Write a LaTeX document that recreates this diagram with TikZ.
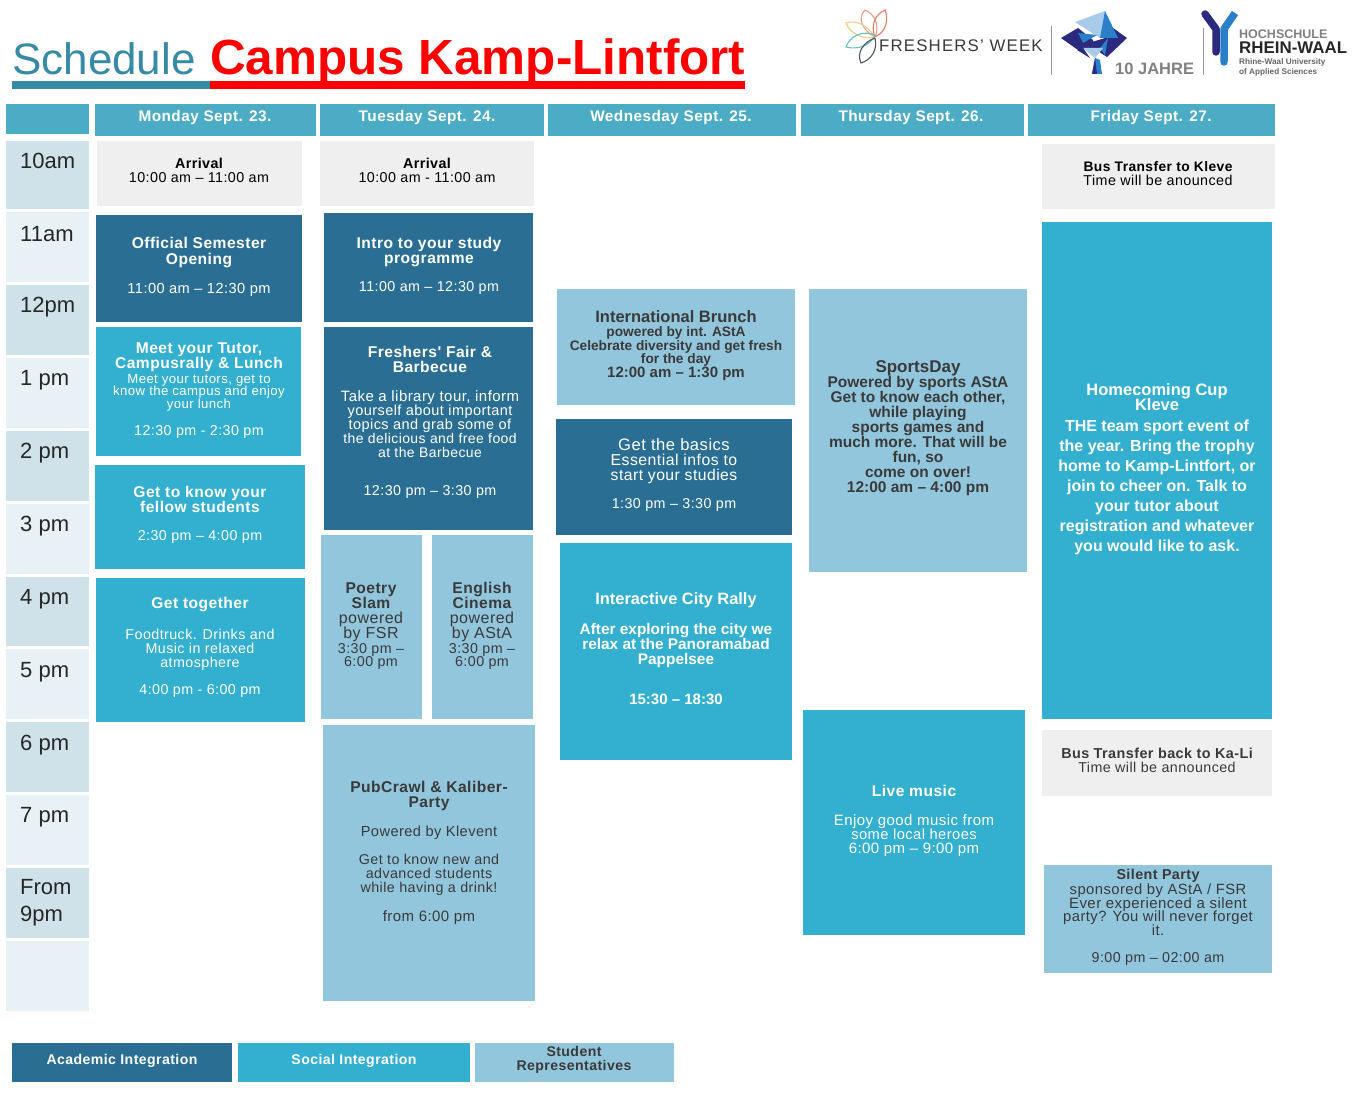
\documentclass[tikz,border=0pt]{standalone}
\usepackage{fontspec}
\setmainfont{Liberation Sans}
\newfontfamily\spc{Liberation Sans}[LetterSpace=3]
\definecolor{dark}{HTML}{2A6F93}
\definecolor{mid}{HTML}{33AFCF}
\definecolor{pale}{HTML}{92C6DC}
\definecolor{head}{HTML}{4CACC6}
\definecolor{grey}{HTML}{EFEFEF}
\definecolor{tA}{HTML}{CFE2E9}
\definecolor{tB}{HTML}{E8F1F5}
\definecolor{teal}{HTML}{368AA5}
\definecolor{tone}{HTML}{3A3A3A}
\definecolor{navy}{HTML}{2B2A7E}
\definecolor{blueB}{HTML}{2A7FC8}
\definecolor{blueC}{HTML}{A9CBEA}
\definecolor{pSalmon}{HTML}{E8A08A}
\definecolor{pRed}{HTML}{E87A62}
\definecolor{pYellow}{HTML}{F0CC80}
\definecolor{pTeal}{HTML}{62C2C4}
\definecolor{pDark}{HTML}{4A5862}
\AtBeginDocument{\lineskiplimit=-100pt\relax}
\tikzset{
 x=1pt,y=-1pt,
 txt/.style={inner sep=0pt,align=center,font=\spc\fontsize{14.3}{14}\selectfont},
 wh/.style={txt,text=white},
 dk/.style={txt,text=black},
 hd/.style={inner sep=0pt,text=white,font=\spc\bfseries\fontsize{15.35}{15}\selectfont},
 tm/.style={inner sep=0pt,anchor=west,align=left,text=black!85,font=\fontsize{22}{27}\selectfont},
 logo/.style={inner sep=0pt,anchor=west,text=tone},
 petal/.style={line width=1.1pt},
}
\newcommand{\bx}[6]{\path[fill=#6] (#2,#3) rectangle (#4,#5) coordinate (#1);}
\newcommand{\bb}{\spc\bfseries}
\newcommand{\hl}[1]{{\bb\fontsize{15.6}{16}\selectfont #1}}
\newcommand{\sz}[2]{{\fontsize{#1}{14}\selectfont #2}}
\begin{document}
\begin{tikzpicture}
\useasboundingbox (0,0) rectangle (1359,1097);
\fill[white] (0,0) rectangle (1359,1097);
% title
\fill[teal] (12,81) rectangle (210,89);
\fill[red] (210,81) rectangle (745,89);
\node[inner sep=0pt,anchor=base west,text=teal,font=\fontsize{44}{44}\selectfont] (ttA) at (12,75) {Schedule};
\node[inner sep=0pt,anchor=base west,text=red,font=\bfseries\fontsize{49.4}{49}\selectfont] (ttB) at (210,75) {Campus Kamp-Lintfort};
% logos
\begin{scope}[petal]
\draw[pSalmon] (875,37) .. controls (862,30) and (857,18) .. (865,10) .. controls (875,14) and (880,26) .. (875,37);
\draw[pRed] (875,37) .. controls (870,24) and (876,14) .. (885,10) .. controls (889,20) and (886,32) .. (875,37);
\draw[pYellow] (875,37) .. controls (866,24) and (856,20) .. (846,23) .. controls (850,34) and (864,40) .. (875,37);
\draw[pTeal] (875,35) .. controls (862,30) and (850,36) .. (846,47) .. controls (858,50) and (870,46) .. (875,35);
\draw[pDark] (875,38) .. controls (864,42) and (856,52) .. (861,63) .. controls (871,60) and (878,50) .. (875,38);
\end{scope}
\node[logo,font=\fontsize{16.8}{17}\selectfont\addfontfeature{LetterSpace=7}] (lgA) at (879,46) {FRESHERS' WEEK};
\draw[black!40,line width=.8pt] (1051,26) -- (1051,75);
% tree
\fill[navy] (1061,38) -- (1078,28) -- (1093,40) -- (1095,48) -- (1078,50) -- cycle;
\fill[navy] (1105,38) -- (1113,28) -- (1127,38) -- (1107,57) -- (1096,50) -- cycle;
\fill[blueC] (1075,22) -- (1105,11) -- (1107,37) -- (1100,38) -- cycle;
\fill[blueB] (1105,11) -- (1118,38) -- (1100,38) -- cycle;
\fill[blueB] (1078,33) -- (1097,35) -- (1083,43) -- cycle;
\fill[navy] (1082,45) -- (1105,38) -- (1100,48) -- (1087,48) -- cycle;
\fill[blueB] (1100,48) -- (1108,38) -- (1105,55) -- cycle;
\fill[blueC] (1083,48) -- (1103,48) -- (1095,58) -- cycle;
\fill[navy] (1077,50) -- (1083,48) -- (1090,58) -- cycle;
\fill[blueB] (1095,58) -- (1100,60) -- (1102,74) -- (1092,74) -- cycle;
\fill[navy] (1092,74) -- (1095,58) -- (1097,74) -- cycle;
\node[logo,text=black!50,font=\bfseries\fontsize{16.5}{17}\selectfont] (lgB) at (1115,69) {10 JAHRE};
\draw[black!40,line width=.8pt] (1203,28) -- (1203,75);
\draw[navy,line width=7.5pt,line cap=round,line join=round] (1205,14) -- (1216,29) -- (1216,52);
\draw[blueB,line width=7.5pt,line join=round] (1235,13) -- (1224,29) -- (1224,61);
\fill[blueB] (1224,62) circle (3.75);
\node[logo,text=black!50,font=\bfseries\fontsize{12.5}{12.5}\selectfont] (lgC) at (1239,34) {HOCHSCHULE};
\node[logo,text=black!85,font=\bfseries\fontsize{16.9}{17}\selectfont] (lgD) at (1239,48) {RHEIN-WAAL};
\node[logo,align=left,text=black!60,font=\bfseries\fontsize{8.2}{9.5}\selectfont] (lgE) at (1239,67.5) {Rhine-Waal University\\of Applied Sciences};
% headers
\bx{hc}{6}{104}{89}{134}{head}
\bx{hm}{95}{104}{316}{136}{head}
\bx{ht}{320}{104}{544}{136}{head}
\bx{hw}{548}{104}{796}{136}{head}
\bx{hh}{801}{104}{1024}{136}{head}
\bx{hf}{1028}{104}{1275}{136}{head}
\node[hd] (hmT) at (205,117.5) {Monday Sept. 23.};
\node[hd] (htT) at (427,117.5) {Tuesday Sept. 24.};
\node[hd] (hwT) at (671,117.5) {Wednesday Sept. 25.};
\node[hd] (hhT) at (911,117.5) {Thursday Sept. 26.};
\node[hd] (hfT) at (1151,117.5) {Friday Sept. 27.};
% times
\bx{t1}{6}{141}{89}{209}{tA}
\bx{t2}{6}{212}{89}{282}{tB}
\bx{t3}{6}{285}{89}{355}{tA}
\bx{t4}{6}{358}{89}{428}{tB}
\bx{t5}{6}{431}{89}{501}{tA}
\bx{t6}{6}{504}{89}{574}{tB}
\bx{t7}{6}{577}{89}{646}{tA}
\bx{t8}{6}{649}{89}{719}{tB}
\bx{t9}{6}{722}{89}{792}{tA}
\bx{t10}{6}{795}{89}{865}{tB}
\bx{t11}{6}{868}{89}{938}{tA}
\bx{t12}{6}{941}{89}{1011}{tB}
\node[tm] (tt1) at (20,161) {10am};
\node[tm] (tt2) at (20,234) {11am};
\node[tm] (tt3) at (20,307) {12pm};
\node[tm] (tt4) at (20,380) {1 pm};
\node[tm] (tt5) at (20,453) {2 pm};
\node[tm] (tt6) at (20,526) {3 pm};
\node[tm] (tt7) at (20,599) {4 pm};
\node[tm] (tt8) at (20,672) {5 pm};
\node[tm] (tt9) at (20,745) {6 pm};
\node[tm] (tt10) at (20,817) {7 pm};
\node[tm] (tt11) at (20,903) {From\\9pm};
% Monday
\bx{mA}{97}{141}{302}{206}{grey}
\bx{mB}{96}{215}{302}{322}{dark}
\bx{mC}{96}{327}{301}{456}{mid}
\bx{mD}{95}{465}{305}{569}{mid}
\bx{mE}{96}{578}{305}{722}{mid}
\node[dk] (mAt) at (199,170) {{\bb Arrival}\\10:00 am – 11:00 am};
\node[wh] (mBt) at (199,266.5) {\hl{Official Semester}\\[2pt]\hl{Opening}\\[15pt]\sz{14.6}{11:00 am – 12:30 pm}};
\node[wh] (mCt) at (199,390.5) {\hl{Meet your Tutor,}\\[1pt]\hl{Campusrally \& Lunch}\\[1pt]\sz{13.2}{Meet your tutors, get to}\\[-1.5pt]\sz{13.2}{know the campus and enjoy}\\[-1.5pt]\sz{13.2}{your lunch}\\[13pt]12:30 pm - 2:30 pm};
\node[wh] (mDt) at (200,515) {\hl{Get to know your}\\[1pt]\hl{fellow students}\\[14pt]2:30 pm – 4:00 pm};
\node[wh] (mEt) at (200,647.5) {\hl{Get together}\\[17pt]Foodtruck. Drinks and\\Music in relaxed\\atmosphere\\[13pt]4:00 pm - 6:00 pm};
% Tuesday
\bx{tuA}{320}{141}{534}{206}{grey}
\bx{tuB}{324}{213}{533}{322}{dark}
\bx{tuC}{324}{327}{533}{530}{dark}
\bx{tuD}{321}{535}{422}{719}{pale}
\bx{tuE}{432}{535}{533}{719}{pale}
\bx{tuF}{323}{725}{535}{1001}{pale}
\node[dk] (tuAt) at (427,170) {{\bb Arrival}\\10:00 am - 11:00 am};
\node[wh] (tuBt) at (429,266) {\hl{Intro to your study}\\[1pt]\hl{programme}\\[14pt]11:00 am – 12:30 pm};
\node[wh] (tuCt) at (430,422) {\hl{Freshers' Fair \&}\\[1pt]\hl{Barbecue}\\[15pt]\sz{15}{Take a library tour, inform}\\\sz{14.5}{yourself about important}\\\sz{14.5}{topics and grab some of}\\\sz{14}{the delicious and free food}\\\sz{14}{at the Barbecue}\\[24pt]12:30 pm – 3:30 pm};
\node[txt,text=tone] (tuDt) at (371,626) {\hl{Poetry}\\[1pt]\hl{Slam}\\[1pt]\sz{16}{powered}\\[1pt]\sz{16}{by FSR}\\[1pt]3:30 pm –\\[-1pt]6:00 pm};
\node[txt,text=tone] (tuEt) at (482,626) {\hl{English}\\[1pt]\hl{Cinema}\\[1pt]\sz{16}{powered}\\[1pt]\sz{16}{by AStA}\\[1pt]3:30 pm –\\[-1pt]6:00 pm};
\node[txt,text=tone] (tuFt) at (429,852.75) {\hl{PubCrawl \& Kaliber-}\\[1pt]\hl{Party}\\[15.5pt]\sz{14.6}{Powered by Klevent}\\[14pt]Get to know new and\\advanced students\\while having a drink!\\[15pt]\sz{15}{from 6:00 pm}};
% Wednesday
\bx{wA}{557}{289}{795}{405}{pale}
\bx{wB}{556}{419}{792}{535}{dark}
\bx{wC}{560}{543}{792}{760}{mid}
\node[txt,text=tone,font=\bfseries\fontsize{13.7}{13.5}\selectfont] (wAt) at (676,345.25) {\sz{16.5}{International Brunch}\\[1pt]powered by int. AStA\\Celebrate diversity and get fresh\\for the day\\\sz{15}{12:00 am – 1:30 pm}};
\node[wh] (wBt) at (674,475) {\sz{16.6}{Get the basics}\\[1pt]\sz{15.8}{Essential infos to}\\[1pt]\sz{15.7}{start your studies}\\[14pt]1:30 pm – 3:30 pm};
\node[wh,font=\bfseries\fontsize{15.4}{15}\selectfont] (wCt) at (676,649) {\sz{16.4}{Interactive City Rally}\\[15pt]After exploring the city we\\relax at the Panoramabad\\Pappelsee\\[25pt]{\fontsize{15}{15}\selectfont 15:30 – 18:30}};
% Thursday
\bx{thA}{809}{289}{1027}{572}{pale}
\bx{thB}{803}{710}{1025}{935}{mid}
\node[txt,text=tone,font=\bfseries\fontsize{15.5}{15}\selectfont] (thAt) at (918,428) {\sz{17}{SportsDay}\\Powered by sports AStA\\Get to know each other,\\while playing\\sports games and\\much more. That will be\\fun, so\\come on over!\\12:00 am – 4:00 pm};
\node[wh] (thBt) at (914,821) {\hl{Live music}\\[15pt]\sz{15}{Enjoy good music from}\\\sz{14.7}{some local heroes}\\\sz{15}{6:00 pm – 9:00 pm}};
% Friday
\bx{fA}{1042}{144}{1275}{209}{grey}
\bx{fB}{1042}{222}{1272}{719}{mid}
\bx{fC}{1042}{730}{1272}{796}{grey}
\bx{fD}{1044}{865}{1272}{973}{pale}
\node[dk] (fAt) at (1158,174) {\sz{13.8}{\bb Bus Transfer to Kleve}\\Time will be anounced};
\node[wh,font=\bfseries\fontsize{16}{20}\selectfont] (fBt) at (1157,469) {\sz{16.5}{Homecoming Cup}\\[-5pt]\sz{16.5}{Kleve}\\[1pt]THE team sport event of\\the year. Bring the trophy\\home to Kamp-Lintfort, or\\join to cheer on. Talk to\\your tutor about\\registration and whatever\\you would like to ask.};
\node[dk,text=tone] (fCt) at (1157,760) {\sz{14.4}{\bb Bus Transfer back to Ka-Li}\\Time will be announced};
\node[txt,text=tone] (fDt) at (1158,917) {{\bb Silent Party}\\[1pt]\sz{14.8}{sponsored by AStA / FSR}\\\sz{15}{Ever experienced a silent}\\[-1pt]\sz{14.8}{party? You will never forget}\\\sz{14.8}{it.}\\[13pt]9:00 pm – 02:00 am};
% legend
\bx{lA}{12}{1043}{232}{1082}{dark}
\bx{lB}{238}{1043}{470}{1082}{mid}
\bx{lC}{475}{1043}{674}{1082}{pale}
\node[inner sep=0pt,text=white,font=\bb\fontsize{14.1}{14}\selectfont] (lAt) at (122,1060.5) {Academic Integration};
\node[inner sep=0pt,text=white,font=\bb\fontsize{14.1}{14}\selectfont] (lBt) at (354,1060.5) {Social Integration};
\node[inner sep=0pt,align=center,text=tone,font=\bb\fontsize{14.1}{14}\selectfont] (lCt) at (574,1060) {Student\\Representatives};
\end{tikzpicture}
\end{document}
